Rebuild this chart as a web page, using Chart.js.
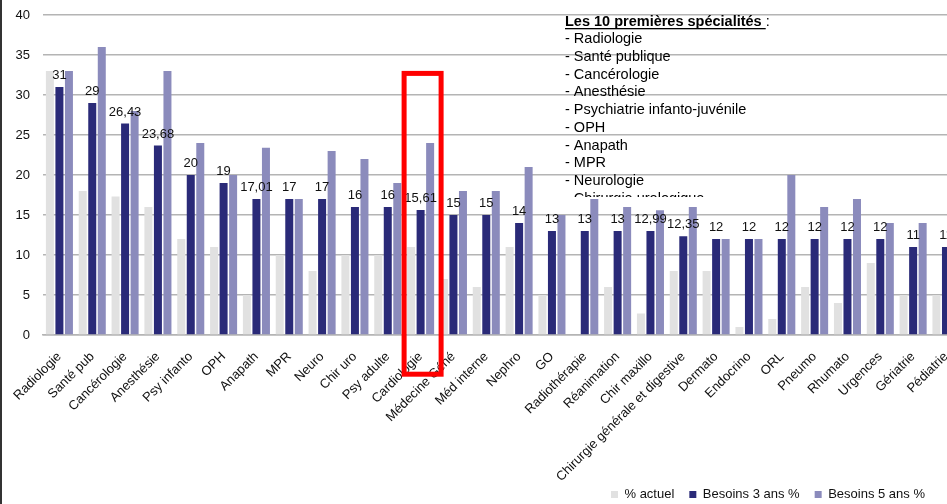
<!DOCTYPE html>
<html>
<head>
<meta charset="utf-8">
<script src="https://cdn.jsdelivr.net/npm/chart.js@4.4.1/dist/chart.umd.min.js"></script>
<style>
    html, body { margin: 0; padding: 0; background: #fff; overflow: hidden; }
    #wrap { position: relative; width: 963px; height: 504px; }
    #edge { position: absolute; left: 0; top: 0; width: 2px; height: 504px; background: #333; }
</style>
</head>
<body>
<div id="wrap"><canvas id="myChart"></canvas></div>
<div id="edge"></div>
<script>
const specialites = ['Radiologie', 'Santé pub', 'Cancérologie', 'Anesthésie', 'Psy infanto', 'OPH', 'Anapath', 'MPR',
    'Neuro', 'Chir uro', 'Psy adulte', 'Cardiologie', 'Médecine Géné', 'Méd interne', 'Nephro', 'GO', 'Radiothérapie',
    'Réanimation', 'Chir maxillo', 'Chirurgie générale et digestive', 'Dermato', 'Endocrino', 'ORL', 'Pneumo', 'Rhumato',
    'Urgences', 'Gériatrie', 'Pédiatrie'];
const actuel = [33, 18, 17.3, 16, 12, 11, 5, 10, 8, 10, 10, 11, 7, 6, 11, 5, 0, 6, 2.7, 8, 8, 1, 2, 6, 4, 9, 5, 5];
const besoins3 = [31, 29, 26.43, 23.68, 20, 19, 17.01, 17, 17, 16, 16, 15.61, 15, 15, 14, 13, 13, 13, 12.99, 12.35,
    12, 12, 12, 12, 12, 12, 11, 11];
const besoins5 = [33, 36, 28, 33, 24, 20, 23.4, 17, 23, 22, 19, 24, 18, 18, 21, 15, 17, 16, 15.6, 16, 12, 12, 20, 16,
    17, 14, 14, 13];
const yTicks = [0, 5, 10, 15, 20, 25, 30, 35, 40];
const topTen = ['Radiologie', 'Santé publique', 'Cancérologie', 'Anesthésie', 'Psychiatrie infanto-juvénile', 'OPH',
    'Anapath', 'MPR', 'Neurologie', 'Chirurgie urologique'];
const highlighted = 'Cardiologie';

const fontFamily = '"Liberation Sans", Arial, Helvetica, sans-serif';
Chart.defaults.font.family = fontFamily;
Chart.defaults.color = '#1a1a1a';

// valeurs au-dessus des barres "Besoins 3 ans"
const valueLabels = {
    id: 'valueLabels',
    afterDatasetsDraw(chart) {
        let ctx = chart.ctx;
        let meta = chart.getDatasetMeta(1);
        ctx.save();
        ctx.font = '13px ' + fontFamily;
        ctx.fillStyle = '#111';
        ctx.textAlign = 'center';
        ctx.textBaseline = 'alphabetic';
        meta.data.forEach((bar, i) => {
            let txt = String(besoins3[i]).replace('.', ',');
            ctx.fillText(txt, bar.x, bar.y - 8);
        });
        ctx.restore();
    }
};

// encadré texte "Les 10 premières spécialités"
const topTenBox = {
    id: 'topTenBox',
    beforeDatasetsDraw(chart) {
        let ctx = chart.ctx;
        let x = 565;
        ctx.save();
        ctx.beginPath();
        ctx.rect(555, 0, 280, 197);
        ctx.clip();
        ctx.fillStyle = '#000';
        ctx.textBaseline = 'middle';
        ctx.font = 'bold 14.5px ' + fontFamily;
        let title = 'Les 10 premières spécialités ';
        ctx.fillText(title, x, 21.7);
        let w = ctx.measureText(title).width;
        ctx.fillRect(x, 28, w, 1.3);
        ctx.font = '14.5px ' + fontFamily;
        ctx.fillText(':', x + w, 21.7);
        topTen.forEach((t, i) => {
            ctx.fillText('- ' + t, x, 39.3 + i * 17.7);
        });
        ctx.restore();
    }
};

// cadre rouge autour de Cardiologie
const redFrame = {
    id: 'redFrame',
    afterDraw(chart) {
        let ctx = chart.ctx;
        let xs = chart.scales.x;
        let ys = chart.scales.y;
        let cx = xs.getPixelForValue(specialites.indexOf(highlighted)) + 2;
        let top = ys.getPixelForValue(32.7);
        let bottom = ys.getPixelForValue(-4.9);
        ctx.save();
        ctx.strokeStyle = '#ff0000';
        ctx.lineWidth = 5;
        ctx.strokeRect(cx - 18.5, top, 37, bottom - top);
        ctx.restore();
    }
};

// légende poussée à droite, en bas
const legendPlace = {
    id: 'legendPlace',
    afterLayout(chart) {
        let lg = chart.legend;
        lg.right = 940;
        lg.top = 473;
        lg.bottom = chart.height;
    }
};

const ctx = document.getElementById('myChart');
new Chart(ctx, {
    type: 'bar',
    data: {
        labels: specialites,
        datasets: [
            { label: '% actuel', data: actuel, backgroundColor: '#e1e1e1' },
            { label: 'Besoins 3 ans %', data: besoins3, backgroundColor: '#2a2a78' },
            { label: 'Besoins 5 ans %', data: besoins5, backgroundColor: '#8b8bbc' }
        ]
    },
    options: {
        responsive: true,
        maintainAspectRatio: false,
        animation: false,
        categoryPercentage: 0.87,
        barPercentage: 0.84,
        layout: { padding: { top: 15, left: 0, right: 0, bottom: 0 } },
        plugins: {
            legend: {
                position: 'bottom',
                align: 'end',
                maxHeight: 16,
                labels: { boxWidth: 7, boxHeight: 7, padding: 15, color: '#111', font: { size: 13 } }
            },
            tooltip: { enabled: false }
        },
        scales: {
            x: {
                grid: { display: false },
                border: { display: true, color: '#b4b4b4', width: 1.5 },
                ticks: { minRotation: 45, maxRotation: 45, autoSkip: false, padding: 6, color: '#111', font: { size: 13 } },
                afterFit: (s) => { s.height = s.chart.height - 335 - s.chart.legend.height; }
            },
            y: {
                min: 0,
                max: 40,
                afterBuildTicks: (s) => { s.ticks = yTicks.map(v => ({ value: v })); },
                ticks: { padding: 13, color: '#111', font: { size: 13 } },
                grid: { color: '#b4b4b4', lineWidth: 1.5, drawTicks: false },
                border: { display: false },
                afterFit: (s) => { s.width = 43; s.paddingTop = 0; s.paddingBottom = 0; }
            }
        }
    },
    plugins: [topTenBox, valueLabels, redFrame, legendPlace]
});
</script>
</body>
</html>
